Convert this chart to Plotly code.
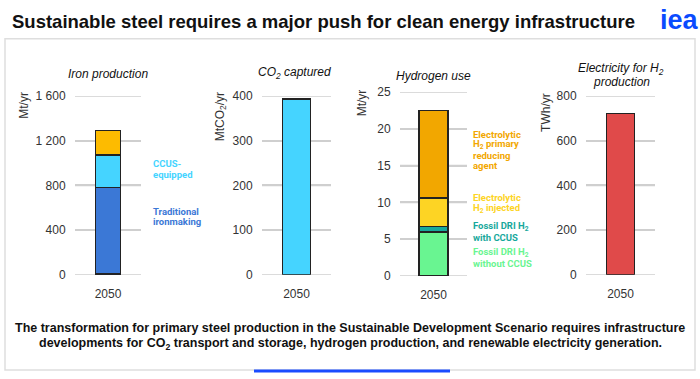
import plotly.graph_objects as go

W, H = 700, 379
cat = ["2050"]

# Iron production (Mt/yr)
iron_series = ["Other", "Traditional ironmaking", "CCUS-equipped", "Innovative"]
iron_values = [6, 774, 293, 217]
iron_colors = ["#1b2a55", "#3b78d6", "#45d4ff", "#fdbb00"]

# CO2 captured (MtCO2/yr)
co2_values = [393]

# Hydrogen use (Mt/yr)
h2_series = ["Fossil DRI H2 without CCUS", "Fossil DRI H2 with CCUS",
             "Electrolytic H2 injected", "Electrolytic H2 primary reducing agent"]
h2_values = [6.0, 0.7, 3.9, 11.9]
h2_colors = ["#69f591", "#17a89c", "#fdd424", "#f2a700"]

# Electricity for H2 production (TWh/yr)
elec_values = [721]

iron_ticks = [0, 400, 800, 1200, 1600]
iron_ticktext = ["0", "400", "800", "1 200", "1 600"]
co2_ticks = [0, 100, 200, 300, 400]
h2_ticks = [0, 5, 10, 15, 20, 25]
elec_ticks = [0, 200, 400, 600, 800]

def py(px):
    return 1 - px / H

def px_(x):
    return x / W

GRID = "#cfcfcf"
fig = go.Figure()
line = dict(color="#222222", width=1.5)

for name, v, c in zip(iron_series, iron_values, iron_colors):
    fig.add_trace(go.Bar(x=cat, y=[v], name=name, marker=dict(color=c, line=line),
                         width=0.38, xaxis="x", yaxis="y", showlegend=False))
fig.add_trace(go.Bar(x=cat, y=co2_values, marker=dict(color="#45d4ff", line=line),
                     width=0.4, xaxis="x2", yaxis="y2", showlegend=False))
for name, v, c in zip(h2_series, h2_values, h2_colors):
    fig.add_trace(go.Bar(x=cat, y=[v], name=name, marker=dict(color=c, line=line),
                         width=0.43, xaxis="x3", yaxis="y3", showlegend=False))
fig.add_trace(go.Bar(x=cat, y=elec_values, marker=dict(color="#e04a4a", line=line),
                     width=0.4, xaxis="x4", yaxis="y4", showlegend=False))

FF = "Liberation Sans, Arial"
tickfont = dict(family=FF, size=12, color="#333333")
def xax(d, anchor):
    return dict(domain=d, range=[-0.5, 0.5], showgrid=False, zeroline=False,
                showline=False, ticks="outside", ticklen=8, tickcolor="rgba(0,0,0,0)",
                tickfont=tickfont, type="category", anchor=anchor)
def yax(d, rng, tv, tt=None, anchor="x"):
    return dict(domain=d, range=rng, tickmode="array", tickvals=tv,
                ticktext=tt if tt else [str(t) for t in tv],
                showgrid=True, gridcolor=GRID, gridwidth=1.5, zeroline=False,
                showline=False, ticks="outside", ticklen=6, tickcolor="rgba(0,0,0,0)",
                tickfont=tickfont, anchor=anchor)

xd1, xd2, xd3, xd4 = [px_(75), px_(141)], [px_(262), px_(331)], [px_(400), px_(467)], [px_(586), px_(655)]
yd = [py(278), py(92.5)]
fig.update_layout(
    width=W, height=H, margin=dict(l=0, r=0, t=0, b=0),
    paper_bgcolor="white", plot_bgcolor="rgba(0,0,0,0)", barmode="stack",
    xaxis=xax(xd1, "y"),
    xaxis2=xax(xd2, "y2"),
    xaxis3=xax(xd3, "y3"),
    xaxis4=xax(xd4, "y4"),
    yaxis=yax(yd, [0, 1600], iron_ticks, iron_ticktext, "x"),
    yaxis2=yax(yd, [0, 400], co2_ticks, None, "x2"),
    yaxis3=yax([py(279.3), py(88.3)], [0, 25], h2_ticks, None, "x3"),
    yaxis4=yax(yd, [0, 800], elec_ticks, None, "x4"),
)

ann = []
def text(x, y, t, size=12, color="#111111", bold=False, italic=False, xanchor="center",
         align="center", family=FF, angle=0):
    if bold:
        t = "<b>" + t + "</b>"
    if italic:
        t = "<i>" + t + "</i>"
    ann.append(dict(x=x / W, y=py(y), xref="paper", yref="paper", text=t, showarrow=False,
                    xanchor=xanchor, yanchor="middle", align=align, textangle=angle,
                    font=dict(size=size, color=color, family=family)))

text(10, 15, "Sustainable steel requires a major push for clean energy infrastructure",
     size=18.5, bold=True, xanchor="left")
text(701, 14, "iea", size=27, bold=True, color="#0a4bff", xanchor="right")

text(108, 70, "Iron production", italic=True, size=12)
text(294, 69, "CO<sub>2</sub> captured", italic=True, size=12)
text(433, 72, "Hydrogen use", italic=True, size=12)
text(621, 64, "Electricity for H<sub>2</sub>", italic=True, size=12)
text(621, 78, "production", italic=True, size=12)

# axis titles
text(24, 102.5, "Mt/yr", size=12, color="#333333", angle=-90)
text(221, 114.5, "MtCO<sub>2</sub>/yr", size=12, color="#333333", angle=-90)
text(362, 100, "Mt/yr", size=12, color="#333333", angle=-90)
text(546, 110, "TWh/yr", size=12, color="#333333", angle=-90)

lf = "Roboto, Liberation Sans"
LS = 9.5
def label(x, ys, lines, color):
    for yy, ln in zip(ys, lines):
        text(x, yy, ln, size=LS, bold=True, color=color, xanchor="left", align="left", family=lf)

label(151, [163, 174], ["CCUS-", "equipped"], "#45d4ff")
label(151, [212, 223], ["Traditional", "ironmaking"], "#3b78d6")
label(471, [132, 143, 154.5, 165], ["Electrolytic", "H<sub>2</sub> primary", "reducing", "agent"], "#f2a700")
label(471, [198, 209.5], ["Electrolytic", "H<sub>2</sub> injected"], "#fdd424")
label(471, [228, 239], ["Fossil DRI H<sub>2</sub>", "with CCUS"], "#17a89c")
label(471, [255, 266], ["Fossil DRI H<sub>2</sub>", "without CCUS"], "#69f591")

text(350, 333, "The transformation for primary steel production in the Sustainable Development Scenario requires infrastructure",
     size=12.5, bold=True, color="#111111")
text(350, 350, "developments for CO<sub>2</sub> transport and storage, hydrogen production, and renewable electricity generation.",
     size=12.5, bold=True, color="#111111")
fig.update_layout(annotations=ann)

shapes = [
    dict(type="rect", xref="paper", yref="paper", x0=5 / W, x1=695 / W, y0=py(377), y1=py(33),
         line=dict(color="#dedede", width=1.5), fillcolor="rgba(0,0,0,0)"),
    dict(type="line", xref="paper", yref="paper", x0=254 / W, x1=450 / W, y0=py(378), y1=py(378),
         line=dict(color="#1a4cff", width=3)),
]
# gridlines at each axis' tick values (backup for the axis grid)
for ax, ticks, xd in (("", iron_ticks, xd1), ("2", co2_ticks, xd2), ("3", h2_ticks, xd3), ("4", elec_ticks, xd4)):
    for t in ticks:
        shapes.append(dict(type="line", xref="paper", yref="y%s" % ax,
                           x0=xd[0], x1=xd[1], y0=t, y1=t, layer="below",
                           line=dict(color=GRID, width=1.5)))
fig.update_layout(shapes=shapes)

fig.write_html("out.html")
